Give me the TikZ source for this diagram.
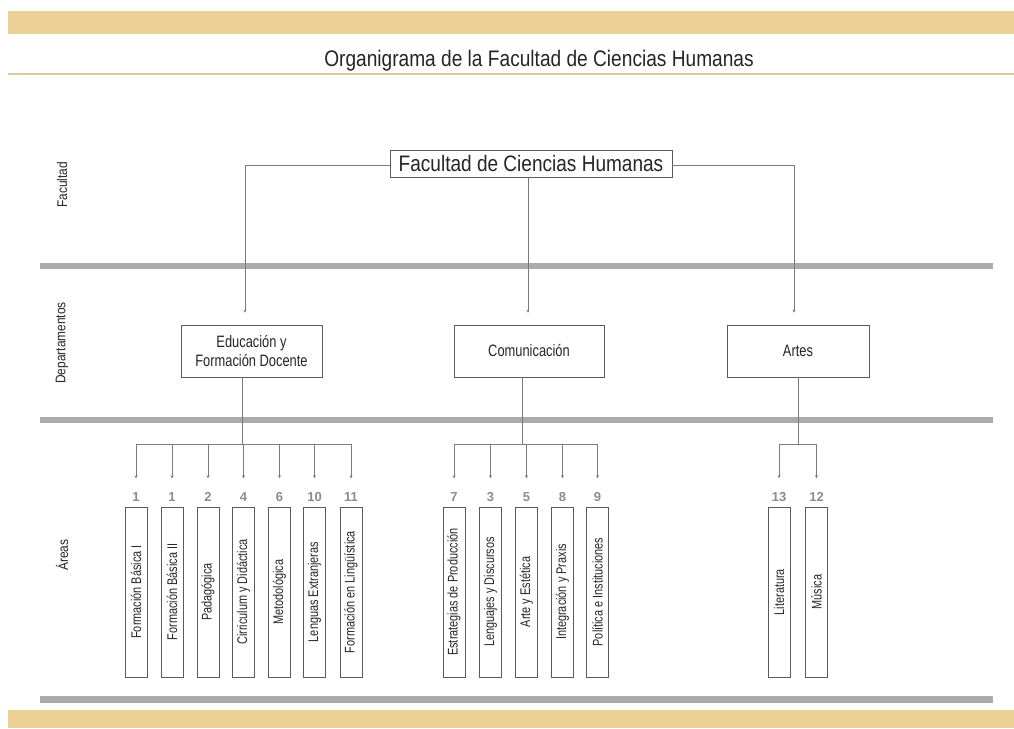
\documentclass[tikz,border=0pt]{standalone}
\usepackage{fontspec}
\setmainfont{Liberation Sans}[FakeStretch=0.85]
\newfontfamily\narrowfont{Liberation Sans}[FakeStretch=0.78]
\newfontfamily\numfont{Liberation Sans}
\usetikzlibrary{arrows.meta}
\definecolor{tanc}{HTML}{EBD195}
\definecolor{tanline}{HTML}{DCC9A0}
\definecolor{barg}{HTML}{ABABAB}
\definecolor{lineg}{HTML}{7A7A7A}
\definecolor{boxg}{HTML}{5A5A5A}
\definecolor{numg}{HTML}{8C8C8C}
\begin{document}
\begin{tikzpicture}[x=1pt,y=-1pt,
  box/.style={draw=boxg, line width=0.8pt, inner sep=0pt, align=center, text=black!85},
  areabox/.style={box, minimum width=22pt, minimum height=170pt, font=\narrowfont\fontsize{14}{16}\selectfont},
  deptbox/.style={box, minimum height=52pt, font=\narrowfont\fontsize{16.5}{18.5}\selectfont},
  num/.style={font=\numfont\bfseries\fontsize{13}{14}\selectfont, text=numg, inner sep=0pt},
  side/.style={rotate=90, font=\fontsize{14}{16}\selectfont, inner sep=0pt, text=black!85},
  conn/.style={draw=lineg, line width=0.6pt},
  arr/.style={conn, -{Stealth[length=3pt,width=3pt]}},
  band/.style={fill=tanc, draw=none},
  gbar/.style={fill=barg, draw=none}
]
\useasboundingbox (0,0) rectangle (1014,728);
\fill[white] (0,0) rectangle (1014,728);
% bands and bars
\path[band] (8,11) rectangle (1014,34);
\path[band] (8,710) rectangle (1014,728);
\draw[tanline, line width=2pt] (8,74) -- (1014,74);
\path[gbar] (40,263) rectangle (993,269);
\path[gbar] (40,417) rectangle (993,423);
\path[gbar] (40,696) rectangle (993,703);
% title
\node[anchor=base, font=\fontsize{22.5}{26}\selectfont, inner sep=0pt, text=black!85] (title) at (539,66) {Organigrama de la Facultad de Ciencias Humanas};
% side labels
\node[side] (lfac) at (62,185) {Facultad};
\node[side] (ldep) at (62,343) {Departamentos};
\node[side] (lare) at (62,555) {Áreas};
% faculty
\node[box, minimum width=282pt, minimum height=27pt, font=\fontsize{22.4}{26}\selectfont] (fac) at (531,163.5) {Facultad de Ciencias Humanas};
% departments
\node[deptbox, minimum width=141pt] (edu) at (251.5,351) {Educación y\\Formación Docente};
\node[deptbox, minimum width=150pt] (com) at (529,351) {Comunicación};
\node[deptbox, minimum width=142pt] (art) at (798,351) {Artes};
\coordinate (fl) at (245,165);
\coordinate (fr) at (794,165);
\coordinate (fm) at (528,165);
\draw[conn] (fac.west |- fl) -- (fl);
\draw[conn] (fac.east |- fr) -- (fr);
\draw[arr] (fl) -- ([yshift=12pt]fl |- edu.north);
\draw[arr] (fr) -- ([yshift=12pt]fr |- art.north);
\draw[arr] (fac.south -| fm) -- ([yshift=12pt]com.north -| fm);
% areas
\foreach \n/\x/\k/\t in {a1/136/1/Formación Básica I, a2/172/1/Formación Básica II, a3/208/2/Padagógica, a4/243.5/4/Cirriculum y Didáctica, a5/279.5/6/Metodológica, a6/314.5/10/Lenguas Extranjeras, a7/351/11/Formación en Lingüística, c1/454/7/Estrategias de Producción, c2/490.5/3/Lenguajes y Discursos, c3/526.5/5/Arte y Estética, c4/562.5/8/Integración y Praxis, c5/597.5/9/Política e Instituciones, r1/779/13/Literatura, r2/816.5/12/Música}{
  \node[areabox] (\n) at (\x,592) {\rotatebox{90}{\t}};
  \node[num] (\n n) at (\x,497) {\k};
}
\coordinate (eb) at (242.5,444);
\coordinate (cb) at (522,444);
\coordinate (rb) at (798,444.5);
\draw[conn] (edu.south -| eb) -- (eb);
\draw[conn] (com.south -| cb) -- (cb);
\draw[conn] (art.south -| rb) -- (rb);
\draw[conn] (a1n |- eb) -- (a7n |- eb);
\draw[conn] (c1n |- cb) -- (c5n |- cb);
\draw[conn] (r1n |- rb) -- (r2n |- rb);
\foreach \n in {a1,a2,a3,a4,a5,a6,a7}{\draw[arr] (\n n |- eb) -- ([yshift=14pt]\n n.north);}
\foreach \n in {c1,c2,c3,c4,c5}{\draw[arr] (\n n |- cb) -- ([yshift=14pt]\n n.north);}
\foreach \n in {r1,r2}{\draw[arr] (\n n |- rb) -- ([yshift=14pt]\n n.north);}
\end{tikzpicture}
\end{document}
